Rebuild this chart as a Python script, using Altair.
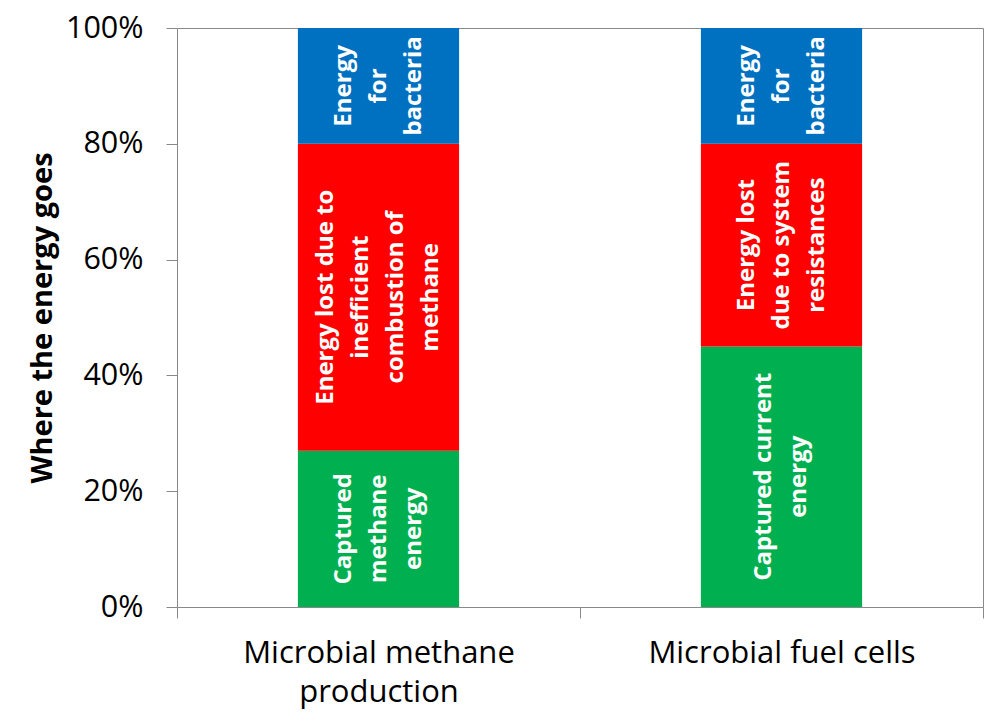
import altair as alt
import pandas as pd

categories = ["Microbial methane production", "Microbial fuel cells"]
components = ["Captured", "Lost", "Bacteria"]
methane_values = [0.27, 0.53, 0.20]
fuel_cell_values = [0.45, 0.35, 0.20]
methane_labels = [
    "Captured\nmethane\nenergy",
    "Energy lost  due to\ninefficient\ncombustion of\nmethane",
    "Energy\nfor\nbacteria",
]
fuel_cell_labels = [
    "Captured current\nenergy",
    "Energy lost\ndue to system\nresistances",
    "Energy\nfor\nbacteria",
]
colors = ["#00B050", "#FF0000", "#0070C0"]

rows = []
for cat, vals, labs in [(categories[0], methane_values, methane_labels),
                        (categories[1], fuel_cell_values, fuel_cell_labels)]:
    for i, (comp, v, lab) in enumerate(zip(components, vals, labs)):
        rows.append({"category": cat, "component": comp, "order": i, "value": v, "label": lab})
df = pd.DataFrame(rows)

FONT = "Open Sans"
GRAY = "#898989"
LINE_H = 35

base = alt.Chart(df).transform_stack(
    stack="value", groupby=["category"], as_=["y0", "y1"],
    sort=[alt.SortField("order", order="ascending")],
).transform_calculate(
    mid="(datum.y0 + datum.y1) / 2",
    nlines="length(split(datum.label, '\\n'))",
)

x_enc = alt.X(
    "category:N", sort=categories, title=None,
    scale=alt.Scale(paddingInner=0, paddingOuter=0),
    axis=alt.Axis(
        labelAngle=0, labelFont=FONT, labelFontSize=31, labelColor="black",
        labelBaseline="top", labelLineHeight=39, labelPadding=20, labelLimit=0,
        tickBand="extent", tickSize=11, tickColor=GRAY, domain=False,
        labelExpr="datum.label == 'Microbial methane production' ? ['Microbial methane', 'production'] : datum.label",
    ),
)

bars = base.mark_bar(width=alt.RelativeBandSize(0.4)).encode(
    x=x_enc,
    y=alt.Y(
        "y0:Q", title="Where the energy goes",
        scale=alt.Scale(domain=[0, 1], nice=False),
        axis=alt.Axis(
            format=".0%", values=[0, 0.2, 0.4, 0.6, 0.8, 1.0], grid=False,
            labelFont=FONT, labelFontSize=30.5, labelColor="black", labelPadding=23,
            tickSize=11, tickColor=GRAY, domain=False,
            titleFont=FONT, titleFontSize=29, titleFontWeight="bold", titleColor="black",
            titleX=-135, titleY=289.5, titleAngle=270, titleAlign="center", titleBaseline="middle",
        ),
    ),
    y2="y1:Q",
    color=alt.Color("component:N", scale=alt.Scale(domain=components, range=colors), legend=None),
)

# one text layer per line count, so that every block is centred on its bar
line_counts = sorted({lab.count("\n") + 1 for lab in methane_labels + fuel_cell_labels})
text_layers = []
for n in line_counts:
    text_layers.append(
        base.transform_filter(f"datum.nlines == {n}").mark_text(
            angle=270, align="center", baseline="middle", lineBreak="\n", lineHeight=LINE_H,
            dy=-(n - 1) * LINE_H / 2,
            font=FONT, fontSize=24, fontWeight="bold", color="white",
        ).encode(
            x=alt.X("category:N", sort=categories),
            y=alt.Y("mid:Q"),
            text="label:N",
        )
    )

chart = alt.layer(bars, *text_layers).properties(
    width=806, height=579,
    autosize=alt.AutoSizeParams(type="none"),
    padding={"left": 169, "top": 20, "right": 9, "bottom": 110},
    background="white",
).configure_view(stroke=GRAY, strokeWidth=1)

chart.save("out.html", embed_options={"renderer": "svg", "actions": False})
